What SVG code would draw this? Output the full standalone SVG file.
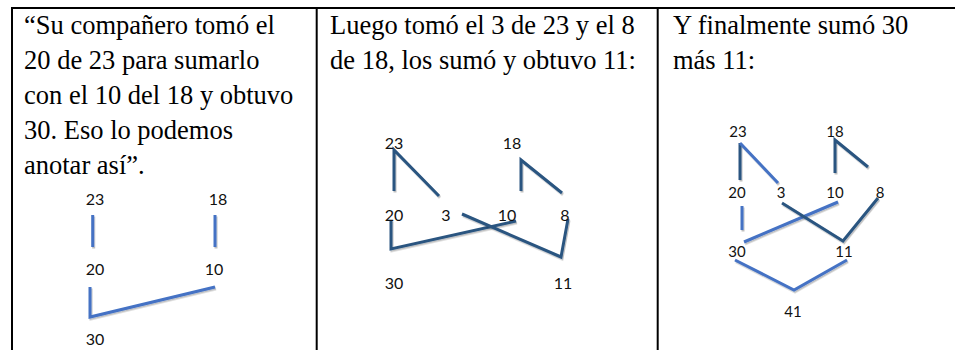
<svg xmlns="http://www.w3.org/2000/svg" width="955" height="350" viewBox="0 0 955 350">
<style>
.p{font-family:"Liberation Serif","Times New Roman",serif;font-size:26.5px;fill:#000}
.n{font-family:Lato,"Open Sans","Liberation Sans",sans-serif;font-size:16px;fill:#111;text-anchor:middle}
.s{font-size:15px}
.b{stroke:#000;stroke-width:2;fill:none}
.c{fill:none;stroke-width:3;stroke-linecap:butt;stroke-linejoin:miter;filter:url(#sh)}
.l{stroke:#4472C4}
.d{stroke:#2B5580}
</style>
<defs>
<filter id="sh" filterUnits="userSpaceOnUse" x="0" y="0" width="955" height="350">
<feDropShadow dx="1" dy="1.5" stdDeviation="0.7" flood-color="#000" flood-opacity="0.25"/>
</filter>
</defs>
<rect width="955" height="350" fill="#fff"/>
<g id="table">
<line class="b" x1="11" y1="8" x2="955" y2="8"/>
<line class="b" x1="12" y1="7" x2="12" y2="350"/>
<line class="b" x1="316.7" y1="7" x2="316.7" y2="350"/>
<line class="b" x1="657.7" y1="7" x2="657.7" y2="350"/>
</g>
<g id="texts">
<text class="p" x="24" y="34">“Su compañero tomó el</text>
<text class="p" x="24" y="69">20 de 23 para sumarlo</text>
<text class="p" x="24" y="104">con el 10 del 18 y obtuvo</text>
<text class="p" x="24" y="139">30. Eso lo podemos</text>
<text class="p" x="24" y="174">anotar así”.</text>
<text class="p" x="330" y="34">Luego tomó el 3 de 23 y el 8</text>
<text class="p" x="330" y="69">de 18, los sumó y obtuvo 11:</text>
<text class="p" x="673" y="34">Y finalmente sumó 30</text>
<text class="p" x="673" y="69">más 11:</text>
</g>
<g id="connectors">
<g id="c1">
<line class="c l" x1="92.7" y1="215" x2="92.7" y2="247"/>
<line class="c l" x1="215" y1="215" x2="215" y2="247"/>
<polyline class="c l" points="90,287 90,317 215,287"/>
</g>
<g id="c2">
<polyline class="c d" points="394,191 394,150 439,196"/>
<polyline class="c d" points="521,191 521,160 562,193"/>
<polyline class="c d" points="391,220 391,249 516,221"/>
<polyline class="c d" points="462,214 561,257 568,219"/>
</g>
<g id="c3">
<line class="c d" x1="740" y1="143" x2="740" y2="180"/>
<line class="c l" x1="740" y1="143" x2="778" y2="183"/>
<polyline class="c d" points="835,173 835,140 868,167"/>
<line class="c l" x1="742" y1="206" x2="742" y2="230"/>
<line class="c l" x1="838" y1="202" x2="744" y2="242"/>
<polyline class="c d" points="782,203 843,241 878,198"/>
<polyline class="c l" points="735,260 794,290 847,260"/>
</g>
</g>
<g id="p1-23"><text class="n" x="95" y="205">23</text></g>
<g id="p1-18"><text class="n" x="218" y="205">18</text></g>
<g id="p1-20"><text class="n" x="95" y="275">20</text></g>
<g id="p1-10"><text class="n" x="214" y="275">10</text></g>
<g id="p1-30"><text class="n" x="95" y="345">30</text></g>
<g id="p2-23"><text class="n" x="394" y="149">23</text></g>
<g id="p2-18"><text class="n" x="512" y="149">18</text></g>
<g id="p2-20"><text class="n" x="394" y="221">20</text></g>
<g id="p2-3"><text class="n" x="446" y="221">3</text></g>
<g id="p2-10"><text class="n" x="507" y="221">10</text></g>
<g id="p2-8"><text class="n" x="565" y="221">8</text></g>
<g id="p2-30"><text class="n" x="394" y="289">30</text></g>
<g id="p2-11"><text class="n" x="563" y="289">11</text></g>
<g id="p3-23"><text class="n s" x="738" y="137">23</text></g>
<g id="p3-18"><text class="n s" x="835" y="137">18</text></g>
<g id="p3-20"><text class="n s" x="737" y="198">20</text></g>
<g id="p3-3"><text class="n s" x="781" y="198">3</text></g>
<g id="p3-10"><text class="n s" x="835" y="198">10</text></g>
<g id="p3-8"><text class="n s" x="880" y="198">8</text></g>
<g id="p3-30"><text class="n s" x="737" y="257">30</text></g>
<g id="p3-11"><text class="n s" x="844" y="257">11</text></g>
<g id="p3-41"><text class="n s" x="793" y="317">41</text></g>
</svg>
